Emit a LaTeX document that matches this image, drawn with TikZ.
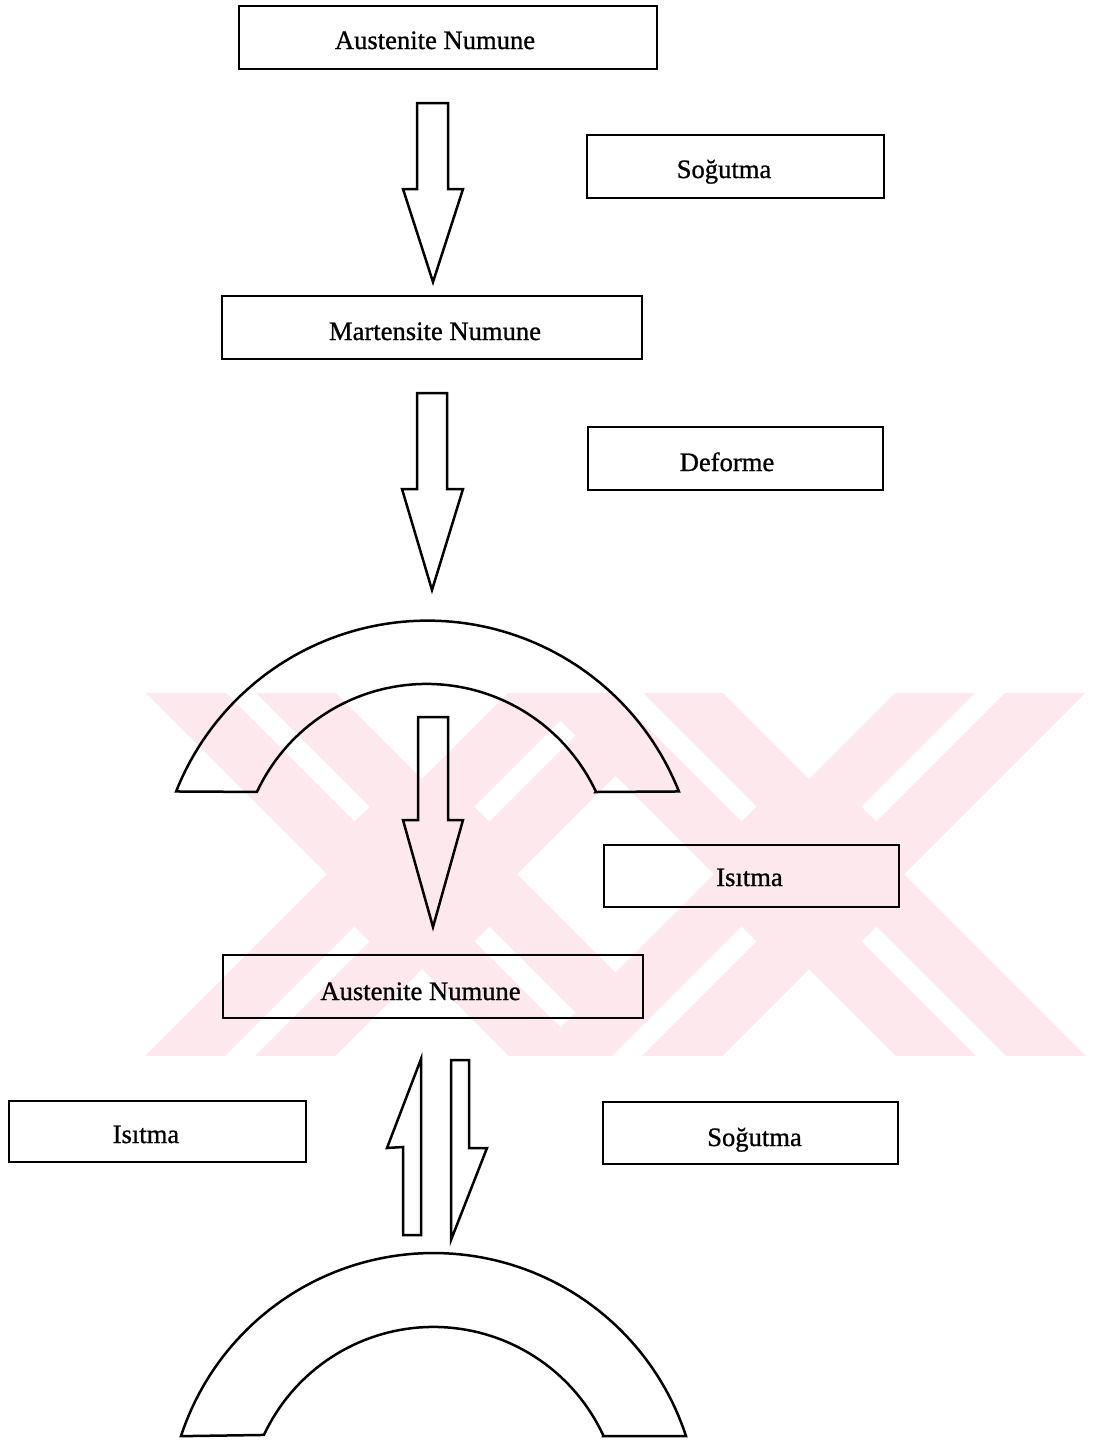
\documentclass[tikz,border=0pt]{standalone}
\usepackage{fontspec}
\setmainfont{Liberation Serif}
\newfontfamily\lblfont{Liberation Serif}[FakeBold=0.9]
\definecolor{wmpink}{RGB}{253,233,237}
\begin{document}
\begin{tikzpicture}[x=0.5pt,y=-0.5pt,
  box/.style={draw=black,line width=1.4pt,rectangle,inner sep=0pt},
  lbl/.style={anchor=base,inner sep=0pt,font=\lblfont\fontsize{13.3}{16}\selectfont},
  outline/.style={draw=black,line width=1.25pt,line join=miter}]
\useasboundingbox (0,0) rectangle (1116,1442);
\fill[white] (0,0) rectangle (1116,1442);

% faint watermark
\begin{scope}
  \clip (107,693) rectangle (1116,1055);
  \foreach \c in {422,809}{
    \fill[wmpink] ({\c-874+600-95},600) -- ({\c-874+600+95},600) -- ({\c-874+1150+95},1150) -- ({\c-874+1150-95},1150) -- cycle;
    \fill[wmpink] ({\c+874-600-95},600) -- ({\c+874-600+95},600) -- ({\c+874-1150+95},1150) -- ({\c+874-1150-95},1150) -- cycle;
    \foreach \dx/\dy in {1/1,1/-1,-1/1,-1/-1}{
      \draw[white,line width=10.5pt] ({\c+60*\dx},{874+60*\dy}) -- ({\c+400*\dx},{874+400*\dy});
    }
  }
\end{scope}

% boxes
\node[box,minimum width=209pt,minimum height=31.5pt] (b1) at (448,37.5) {};
\node[box,minimum width=148.5pt,minimum height=31.5pt] (b2) at (735.5,166.5) {};
\node[box,minimum width=210pt,minimum height=31.5pt] (b3) at (432,327.5) {};
\node[box,minimum width=147.5pt,minimum height=31.5pt] (b4) at (735.5,458.5) {};
\node[box,minimum width=147.5pt,minimum height=31pt] (b5) at (751.5,876) {};
\node[box,minimum width=210pt,minimum height=31.5pt] (b6) at (433,986.5) {};
\node[box,minimum width=148.5pt,minimum height=30.5pt] (b7) at (157.5,1131.5) {};
\node[box,minimum width=147.5pt,minimum height=31pt] (b8) at (750.5,1133) {};

% labels
\node[lbl] (t1) at (435,49) {Austenite Numune};
\node[lbl] (t2) at (724,178) {Soğutma};
\node[lbl] (t3) at (435,340) {Martensite Numune};
\node[lbl] (t4) at (727,471) {Deforme};
\node[lbl] (t5) at (749.5,886) {Isıtma};
\node[lbl] (t6) at (420.5,1000) {Austenite Numune};
\node[lbl] (t7) at (146,1143) {Isıtma};
\node[lbl] (t8) at (754.5,1146) {Soğutma};

% block arrows
\draw[outline] (417,103) -- (448,103) -- (448,189) -- (463,189) -- (433,282) -- (403,189) -- (417,189) -- cycle;
\draw[outline] (417,393) -- (447,393) -- (447,489) -- (463,489) -- (432,590) -- (402,489) -- (417,489) -- cycle;
\draw[outline] (418,717) -- (448,717) -- (448,820) -- (463,820) -- (433,927) -- (403,820) -- (418,820) -- cycle;

% half arrows (reversible)
\draw[outline] (421,1059) -- (421,1235) -- (403,1235) -- (403,1147) -- (387,1148) -- cycle;
\draw[outline] (451,1060) -- (469,1060) -- (469,1148) -- (487,1148) -- (451,1240) -- cycle;

% bent specimen (upper)
\draw[outline] plot[domain=158.4:21.6,samples=90] ({427.5+270.4*cos(\x)},{891-270.4*sin(\x)})
  -- (596,792)
  -- plot[domain=25:155,samples=70] ({426.5+187.1*cos(\x)},{871-187.1*sin(\x)})
  -- cycle;

% specimen (lower)
\draw[outline] plot[domain=161.9:18.1,samples=90] ({433.5+265.7*cos(\x)},{1518.7-265.7*sin(\x)})
  -- (603,1436)
  -- plot[domain=25:155,samples=70] ({433.5+187.1*cos(\x)},{1514-187.1*sin(\x)})
  -- cycle;
\end{tikzpicture}
\end{document}
